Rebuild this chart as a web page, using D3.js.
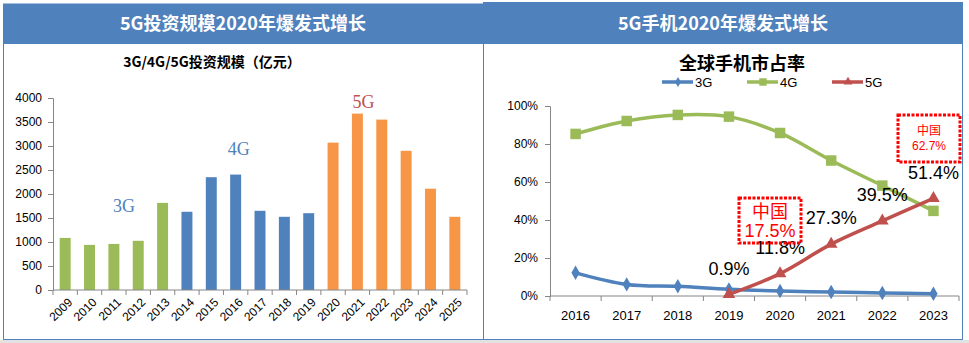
<!DOCTYPE html>
<html>
<head>
<meta charset="utf-8">
<script src="https://cdn.jsdelivr.net/npm/d3@7"></script>
<style>
  body { margin: 0; background: #fff; }
  #chart { width: 969px; height: 343px; }
  text { font-family: "Liberation Sans", Arial, sans-serif; }
  .cjk { font-family: "Noto Sans CJK SC", sans-serif; }
</style>
</head>
<body>
<div id="chart"></div>
<script>
// investment by year (亿元)
var years = ["2009","2010","2011","2012","2013","2014","2015","2016","2017","2018","2019","2020","2021","2022","2023","2024","2025"];
var invest = [1085, 940, 960, 1025, 1815, 1630, 2350, 2405, 1650, 1525, 1600, 3070, 3675, 3550, 2900, 2110, 1525];
var gen = ["3G","3G","3G","3G","3G","4G","4G","4G","4G","4G","4G","5G","5G","5G","5G","5G","5G"];
var investTicks = [0, 500, 1000, 1500, 2000, 2500, 3000, 3500, 4000];

// global phone market share (%)
var shareYears = ["2016","2017","2018","2019","2020","2021","2022","2023"];
var share3G = [12.2, 6.1, 5.1, 3.5, 2.6, 2.1, 1.6, 1.2];
var share4G = [85.3, 92.1, 95.3, 94.4, 85.8, 71.3, 58.1, 44.8];
var share5G = [null, null, null, 0.9, 11.8, 27.3, 39.5, 51.4];
var shareTicks = [0, 20, 40, 60, 80, 100];
var chinaShare = {"2020": 17.5, "2023": 62.7};

var barColors = {"3G": "#9BBB59", "4G": "#4F81BD", "5G": "#F79646"};
var lineColors = {"3G": "#4F81BD", "4G": "#9BBB59", "5G": "#C0504D"};

var width = 969, height = 343;
var svg = d3.select("#chart").append("svg")
    .attr("width", width)
    .attr("height", height);

// bottom gray strip
svg.append("rect").attr("x", 0).attr("y", 340).attr("width", width).attr("height", 3).attr("fill", "#e2e2e2");

// panel frames
svg.append("rect").attr("x", 3.5).attr("y", 4).attr("width", 959).attr("height", 335.5)
    .attr("fill", "none").attr("stroke", "#4F81BD").attr("stroke-width", 1);
svg.append("line").attr("x1", 483.5).attr("x2", 483.5).attr("y1", 44).attr("y2", 339.5)
    .attr("stroke", "#4F81BD");

// headers
svg.append("rect").attr("x", 3).attr("y", 4).attr("width", 480).attr("height", 40).attr("fill", "#4F81BD");
svg.append("rect").attr("x", 483).attr("y", 2).attr("width", 480).attr("height", 42).attr("fill", "#4F81BD");
svg.append("text").attr("class", "cjk").attr("x", 243).attr("y", 30)
    .attr("text-anchor", "middle").attr("fill", "#fff").attr("font-size", 18).attr("font-weight", "bold")
    .text("5G投资规模2020年爆发式增长");
svg.append("text").attr("class", "cjk").attr("x", 723).attr("y", 30)
    .attr("text-anchor", "middle").attr("fill", "#fff").attr("font-size", 18).attr("font-weight", "bold")
    .text("5G手机2020年爆发式增长");

// ---------- left: bar chart ----------
var bar = svg.append("g");
bar.append("text").attr("class", "cjk").attr("x", 212).attr("y", 67)
    .attr("text-anchor", "middle").attr("font-size", 14).attr("font-weight", "bold").attr("fill", "#000")
    .text("3G/4G/5G投资规模（亿元）");

var xScale = d3.scaleBand().domain(years).range([53, 467]);
var yScale = d3.scaleLinear().domain([0, 4000]).range([290, 98]);
var bw = xScale.bandwidth() * 0.45;

bar.selectAll("rect.bar")
    .data(years)
    .enter()
    .append("rect")
        .attr("class", "bar")
        .attr("x", function(d) { return xScale(d) + xScale.bandwidth() / 2 - bw / 2; })
        .attr("y", function(d, i) { return yScale(invest[i]); })
        .attr("width", bw)
        .attr("height", function(d, i) { return 290 - yScale(invest[i]); })
        .attr("fill", function(d, i) { return barColors[gen[i]]; });

var yAxisL = bar.append("g")
    .attr("transform", "translate(53,0)")
    .call(d3.axisLeft(yScale).tickValues(investTicks).tickSize(5).tickPadding(6).tickFormat(d3.format("d")));
yAxisL.selectAll("text").attr("font-size", 12).attr("fill", "#000").style("font-family", "Liberation Sans, Arial");
yAxisL.selectAll("line, path").attr("stroke", "#868686");

var xAxisL = bar.append("g").attr("transform", "translate(0,290)");
xAxisL.append("line").attr("x1", 53).attr("x2", 467).attr("stroke", "#868686");
xAxisL.selectAll("line.tick")
    .data(years.concat(["end"]))
    .enter()
    .append("line")
        .attr("class", "tick")
        .attr("x1", function(d) { return d === "end" ? 467 : xScale(d); })
        .attr("x2", function(d) { return d === "end" ? 467 : xScale(d); })
        .attr("y1", 0).attr("y2", 5)
        .attr("stroke", "#868686");
xAxisL.selectAll("text")
    .data(years)
    .enter()
    .append("text")
        .attr("transform", function(d) { return "translate(" + (xScale(d) + xScale.bandwidth() / 2 + 5) + ",10) rotate(-45)"; })
        .attr("text-anchor", "end")
        .attr("dy", "0.35em")
        .attr("font-size", 12)
        .attr("fill", "#000")
        .text(function(d) { return d; });

// generation tags
var tags = [
    {t: "3G", at: "2011", dx: 10, v: 1630, c: "#4F81BD"},
    {t: "4G", at: "2016", dx: 3, v: 2820, c: "#4F81BD"},
    {t: "5G", at: "2021", dx: 6, v: 3800, c: "#C0504D"}
];
bar.selectAll("text.tag")
    .data(tags)
    .enter()
    .append("text")
        .attr("class", "tag")
        .attr("x", function(d) { return xScale(d.at) + xScale.bandwidth() / 2 + d.dx; })
        .attr("y", function(d) { return yScale(d.v); })
        .attr("text-anchor", "middle")
        .attr("font-size", 18)
        .style("font-family", "Liberation Serif, Times New Roman, serif")
        .attr("fill", function(d) { return d.c; })
        .text(function(d) { return d.t; });

// ---------- right: line chart ----------
var ln = svg.append("g");
ln.append("text").attr("class", "cjk").attr("x", 742).attr("y", 70)
    .attr("text-anchor", "middle").attr("font-size", 18).attr("font-weight", "bold").attr("fill", "#000")
    .text("全球手机市占率");

var sx = d3.scaleBand().domain(shareYears).range([550, 959]);
var sy = d3.scaleLinear().domain([0, 100]).range([296, 106]);
var cx = function(d) { return sx(d) + sx.bandwidth() / 2; };

var yAxisR = ln.append("g")
    .attr("transform", "translate(550,0)")
    .call(d3.axisLeft(sy).tickValues(shareTicks).tickSize(5).tickPadding(7).tickFormat(function(d) { return d + "%"; }));
yAxisR.selectAll("text").attr("font-size", 12).attr("fill", "#000").style("font-family", "Liberation Sans, Arial");
yAxisR.selectAll("line, path").attr("stroke", "#868686");

var xAxisR = ln.append("g").attr("transform", "translate(0,296)");
xAxisR.append("line").attr("x1", 550).attr("x2", 959).attr("stroke", "#868686");
xAxisR.selectAll("line.tick")
    .data(shareYears.concat(["end"]))
    .enter()
    .append("line")
        .attr("class", "tick")
        .attr("x1", function(d) { return d === "end" ? 959 : sx(d); })
        .attr("x2", function(d) { return d === "end" ? 959 : sx(d); })
        .attr("y1", 0).attr("y2", 5)
        .attr("stroke", "#868686");
xAxisR.selectAll("text")
    .data(shareYears)
    .enter()
    .append("text")
        .attr("x", cx)
        .attr("y", 24)
        .attr("text-anchor", "middle")
        .attr("font-size", 13)
        .attr("fill", "#000")
        .text(function(d) { return d; });

var series = [
    {name: "3G", values: share3G, marker: d3.symbolDiamond, size: 60},
    {name: "4G", values: share4G, marker: d3.symbolSquare, size: 110},
    {name: "5G", values: share5G, marker: d3.symbolTriangle, size: 70}
];

var line = d3.line()
    .defined(function(d) { return d.v != null; })
    .x(function(d) { return cx(d.year); })
    .y(function(d) { return sy(d.v); })
    .curve(d3.curveCardinal.tension(0));

series.forEach(function(s) {
    var pts = shareYears.map(function(y, i) { return {year: y, v: s.values[i]}; });
    var col = lineColors[s.name];
    ln.append("path")
        .datum(pts)
        .attr("d", line)
        .attr("fill", "none")
        .attr("stroke", col)
        .attr("stroke-width", 3.5);
    ln.selectAll("path.m" + s.name)
        .data(pts.filter(function(d) { return d.v != null; }))
        .enter()
        .append("path")
            .attr("class", "m" + s.name)
            .attr("d", d3.symbol().type(s.marker).size(s.size))
            .attr("transform", function(d) { return "translate(" + cx(d.year) + "," + sy(d.v) + ")"; })
            .attr("fill", col);
});

// 5G value labels, sitting above each point
ln.selectAll("text.val")
    .data(shareYears.filter(function(y, i) { return share5G[i] != null; }))
    .enter()
    .append("text")
        .attr("class", "val")
        .attr("x", cx)
        .attr("y", function(d) { return sy(share5G[shareYears.indexOf(d)]) - 26; })
        .attr("dy", "0.35em")
        .attr("text-anchor", "middle")
        .attr("font-size", 18)
        .attr("fill", "#000")
        .text(function(d) { return share5G[shareYears.indexOf(d)].toFixed(1) + "%"; });

// China callouts
var callouts = [
    {year: "2020", x: 739, y: 198, w: 62, h: 45, fs: 18, l1: 212, l2: 231},
    {year: "2023", x: 898, y: 115, w: 62, h: 47, fs: 12, l1: 131, l2: 146}
];
callouts.forEach(function(c) {
    ln.append("rect").attr("x", c.x).attr("y", c.y).attr("width", c.w).attr("height", c.h)
        .attr("fill", "none").attr("stroke", "#FF0000").attr("stroke-width", 3)
        .attr("stroke-dasharray", "3,1.5");
    ln.append("text").attr("class", "cjk").attr("x", c.x + c.w / 2).attr("y", c.l1)
        .attr("dy", "0.35em").attr("text-anchor", "middle").attr("font-size", c.fs).attr("fill", "#FF0000")
        .text("中国");
    ln.append("text").attr("x", c.x + c.w / 2).attr("y", c.l2)
        .attr("dy", "0.35em").attr("text-anchor", "middle").attr("font-size", c.fs).attr("fill", "#FF0000")
        .text(chinaShare[c.year].toFixed(1) + "%");
});

// legend
var legend = ln.selectAll("g.leg")
    .data(series)
    .enter()
    .append("g")
        .attr("class", "leg")
        .attr("transform", function(d, i) { return "translate(" + (662 + i * 85) + ",82)"; });
legend.append("line").attr("x1", 0).attr("x2", 31)
    .attr("stroke", function(d) { return lineColors[d.name]; }).attr("stroke-width", 3.5);
legend.append("path")
    .attr("d", function(d) { return d3.symbol().type(d.marker).size(d.size * 0.5)(); })
    .attr("transform", "translate(16,0)")
    .attr("fill", function(d) { return lineColors[d.name]; });
legend.append("text").attr("x", 33).attr("dy", "0.35em").attr("font-size", 13).attr("fill", "#000")
    .text(function(d) { return d.name; });
</script>
</body>
</html>
